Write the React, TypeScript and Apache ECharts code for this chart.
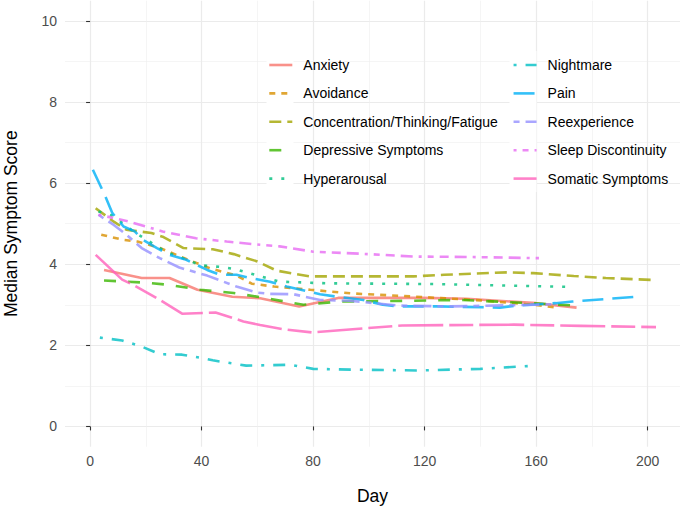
import React, { useEffect, useRef } from "react";
import * as echarts from "echarts";

// ---- Data ----
const seriesNames = [
  "Anxiety",
  "Avoidance",
  "Concentration/Thinking/Fatigue",
  "Depressive Symptoms",
  "Hyperarousal",
  "Nightmare",
  "Pain",
  "Reexperience",
  "Sleep Discontinuity",
  "Somatic Symptoms",
];

const anxiety: [number, number][] = [
  [5, 3.86], [18.5, 3.66], [28.5, 3.66], [38.5, 3.37], [51, 3.2], [61, 3.16],
  [75, 2.96], [89, 3.17], [119, 3.17], [135, 3.15], [160, 3.04], [174.5, 2.93],
];
const avoidance: [number, number][] = [
  [4, 4.73], [12, 4.6], [17, 4.56], [25, 4.4], [34.5, 4.13], [43, 3.9],
  [52.5, 3.72], [58, 3.52], [66, 3.45], [79, 3.37], [94, 3.28], [117, 3.2],
  [140, 3.11], [159, 3.0], [167.5, 2.93],
];
const concentration: [number, number][] = [
  [2, 5.38], [8.5, 5.05], [13, 4.85], [22, 4.77], [26, 4.68], [33.5, 4.4],
  [44, 4.37], [51.5, 4.25], [60, 4.07], [67, 3.84], [79, 3.7], [116, 3.7],
  [127, 3.74], [149.5, 3.8], [159, 3.78], [173.5, 3.71], [185, 3.66], [203, 3.61],
];
const depressive: [number, number][] = [
  [5, 3.6], [19, 3.55], [28.5, 3.49], [39.5, 3.37], [51.5, 3.29], [61, 3.19],
  [76.5, 3.0], [89.5, 3.08], [115, 3.1], [133, 3.12], [158, 3.04], [174.5, 2.98],
];
const hyperarousal: [number, number][] = [
  [3, 5.3], [8, 5.2], [15.5, 4.81], [27, 4.31], [40, 3.97], [47.5, 3.93],
  [52, 3.88], [56, 3.8], [68, 3.57], [85, 3.53], [125, 3.51], [173.5, 3.44],
];
const nightmare: [number, number][] = [
  [3.5, 2.19], [11.5, 2.12], [18.5, 1.97], [25, 1.78], [33, 1.77], [40, 1.69],
  [44, 1.63], [56, 1.5], [72, 1.52], [80, 1.42], [94, 1.4], [118, 1.38],
  [140, 1.42], [160, 1.5],
];
const pain: [number, number][] = [
  [1, 6.33], [5.5, 5.67], [8, 5.26], [12, 4.93], [16, 4.81], [19, 4.6],
  [24, 4.4], [28.5, 4.23], [34.5, 4.11], [42, 3.86], [46.5, 3.74], [52.5, 3.74],
  [57.5, 3.66], [64.5, 3.57], [70.5, 3.45], [82.5, 3.26], [88.5, 3.2], [98, 3.12],
  [105, 3.0], [110, 2.96], [125, 2.96], [147, 2.93], [153, 2.98], [167, 3.04],
  [173, 3.08], [196, 3.2],
];
const reexperience: [number, number][] = [
  [3, 5.22], [8.5, 4.97], [13, 4.73], [18.5, 4.4], [25, 4.15], [32, 3.92],
  [42, 3.72], [52.5, 3.45], [60, 3.3], [64.5, 3.27], [73, 3.26], [82.5, 3.12],
  [93, 3.1], [111, 2.98], [129, 2.96], [160, 3.0], [167.5, 3.02],
];
const sleep: [number, number][] = [
  [3, 5.22], [8.5, 5.14], [14, 5.05], [26, 4.81], [38, 4.64], [49, 4.56],
  [61, 4.48], [68, 4.44], [80, 4.31], [97, 4.26], [116, 4.19], [135, 4.18],
  [161, 4.15],
];
const somatic: [number, number][] = [
  [2, 4.23], [11.5, 3.62], [15.5, 3.49], [25, 3.12], [33, 2.78], [45, 2.81],
  [55, 2.59], [61, 2.5], [69, 2.4], [79.5, 2.32], [112, 2.49], [152, 2.51],
  [176, 2.48], [203, 2.45],
];

const xMajorTicks = [0, 40, 80, 120, 160, 200];
const xMinorTicks = [20, 60, 100, 140, 180];
const yMajorTicks = [0, 2, 4, 6, 8, 10];
const yMinorTicks = [1, 3, 5, 7, 9];

// ---- Styles ----
const allData = [
  anxiety, avoidance, concentration, depressive, hyperarousal,
  nightmare, pain, reexperience, sleep, somatic,
];
const colors = [
  "#F8766D", "#D89000", "#A3A500", "#39B600", "#00BF7D",
  "#00BFC4", "#00B0F6", "#9590FF", "#E76BF3", "#FF62BC",
];
const linetypes: (number[] | null)[] = [
  null, [2, 2], [4, 2], [4, 4], [1, 3], [1, 3, 4, 3], [7, 3],
  [2, 2, 6, 2], [1, 2, 2, 2, 3, 2, 4, 2], [15, 2, 8, 2],
];
const DASH_UNIT = 3;
const LINE_W = 2.6;
const FONT = "'Liberation Sans', Arial, Helvetica, sans-serif";

export default function App() {
  const ref = useRef<HTMLDivElement>(null);

  useEffect(() => {
    document.body.style.margin = "0";
    if (!ref.current) return;
    const chart = echarts.init(ref.current, undefined, { renderer: "svg" });

    const xCommon = {
      type: "value" as const,
      min: -9,
      max: 211.6,
      gridIndex: 0,
    };
    const yCommon = {
      type: "value" as const,
      min: -0.5,
      max: 10.5,
      gridIndex: 0,
    };

    const option: any = {
      animation: false,
      grid: {
        left: 65,
        right: 5,
        top: 0.7,
        bottom: 63.3,
        containLabel: false,
        outerBoundsMode: "none",
      },
      // white backgrounds of the legend keys (ggplot legend.key)
      graphic: [
        {
          type: "rect",
          z: 1,
          silent: true,
          shape: { x: 266.5, y: 51, width: 27, height: 141 },
          style: { fill: "#ffffff" },
        },
        {
          type: "rect",
          z: 1,
          silent: true,
          shape: { x: 509.5, y: 51, width: 27, height: 141 },
          style: { fill: "#ffffff" },
        },
      ],
      xAxis: [
        {
          ...xCommon,
          position: "bottom",
          name: "Day",
          nameLocation: "middle",
          nameGap: 40,
          nameTextStyle: { fontSize: 17.5, color: "#000", fontFamily: FONT },
          axisLine: { show: false },
          axisTick: {
            show: true,
            customValues: xMajorTicks,
            length: 4,
            lineStyle: { color: "#333333", width: 1.1 },
          },
          axisLabel: {
            customValues: xMajorTicks,
            fontSize: 14,
            color: "#4D4D4D",
            margin: 7,
            fontFamily: FONT,
          },
          splitLine: { show: true, lineStyle: { color: "#EBEBEB", width: 1.2 } },
        },
        {
          ...xCommon,
          position: "top",
          axisLine: { show: false },
          axisTick: { show: false, customValues: xMinorTicks },
          axisLabel: { show: false, customValues: xMinorTicks },
          splitLine: { show: true, lineStyle: { color: "#EFEFEF", width: 0.6 } },
        },
      ],
      yAxis: [
        {
          ...yCommon,
          position: "left",
          name: "Median Symptom Score",
          nameLocation: "middle",
          nameGap: 45,
          nameTextStyle: { fontSize: 17.5, color: "#000", fontFamily: FONT },
          axisLine: { show: false },
          axisTick: {
            show: true,
            customValues: yMajorTicks,
            length: 4,
            lineStyle: { color: "#333333", width: 1.1 },
          },
          axisLabel: {
            customValues: yMajorTicks,
            fontSize: 14,
            color: "#4D4D4D",
            margin: 8,
            fontFamily: FONT,
          },
          splitLine: { show: true, lineStyle: { color: "#EBEBEB", width: 1.2 } },
        },
        {
          ...yCommon,
          position: "right",
          axisLine: { show: false },
          axisTick: { show: false, customValues: yMinorTicks },
          axisLabel: { show: false, customValues: yMinorTicks },
          splitLine: { show: true, lineStyle: { color: "#EFEFEF", width: 0.6 } },
        },
      ],
      legend: {
        orient: "vertical",
        left: 268,
        top: 58,
        height: 140,
        padding: 0,
        z: 5,
        itemWidth: 23,
        itemHeight: 16,
        itemGap: 14.4,
        selectedMode: false,
        data: seriesNames,
        itemStyle: { opacity: 0 },
        lineStyle: { width: LINE_W },
        textStyle: {
          fontSize: 14,
          color: "#000",
          fontFamily: FONT,
          padding: [0, 0, 0, 6],
        },
      },
      series: seriesNames.map((name, i) => ({
        name,
        type: "line",
        xAxisIndex: 0,
        yAxisIndex: 0,
        data: allData[i],
        showSymbol: false,
        symbol: "none",
        silent: true,
        emphasis: { disabled: true },
        itemStyle: { color: colors[i] },
        lineStyle: {
          color: colors[i],
          width: LINE_W,
          opacity: 0.8,
          cap: "butt",
          type: linetypes[i] ? linetypes[i]!.map((v) => v * DASH_UNIT) : "solid",
        },
      })),
    };

    chart.setOption(option);
    return () => chart.dispose();
  }, []);

  return <div ref={ref} style={{ width: 685, height: 510 }} />;
}
